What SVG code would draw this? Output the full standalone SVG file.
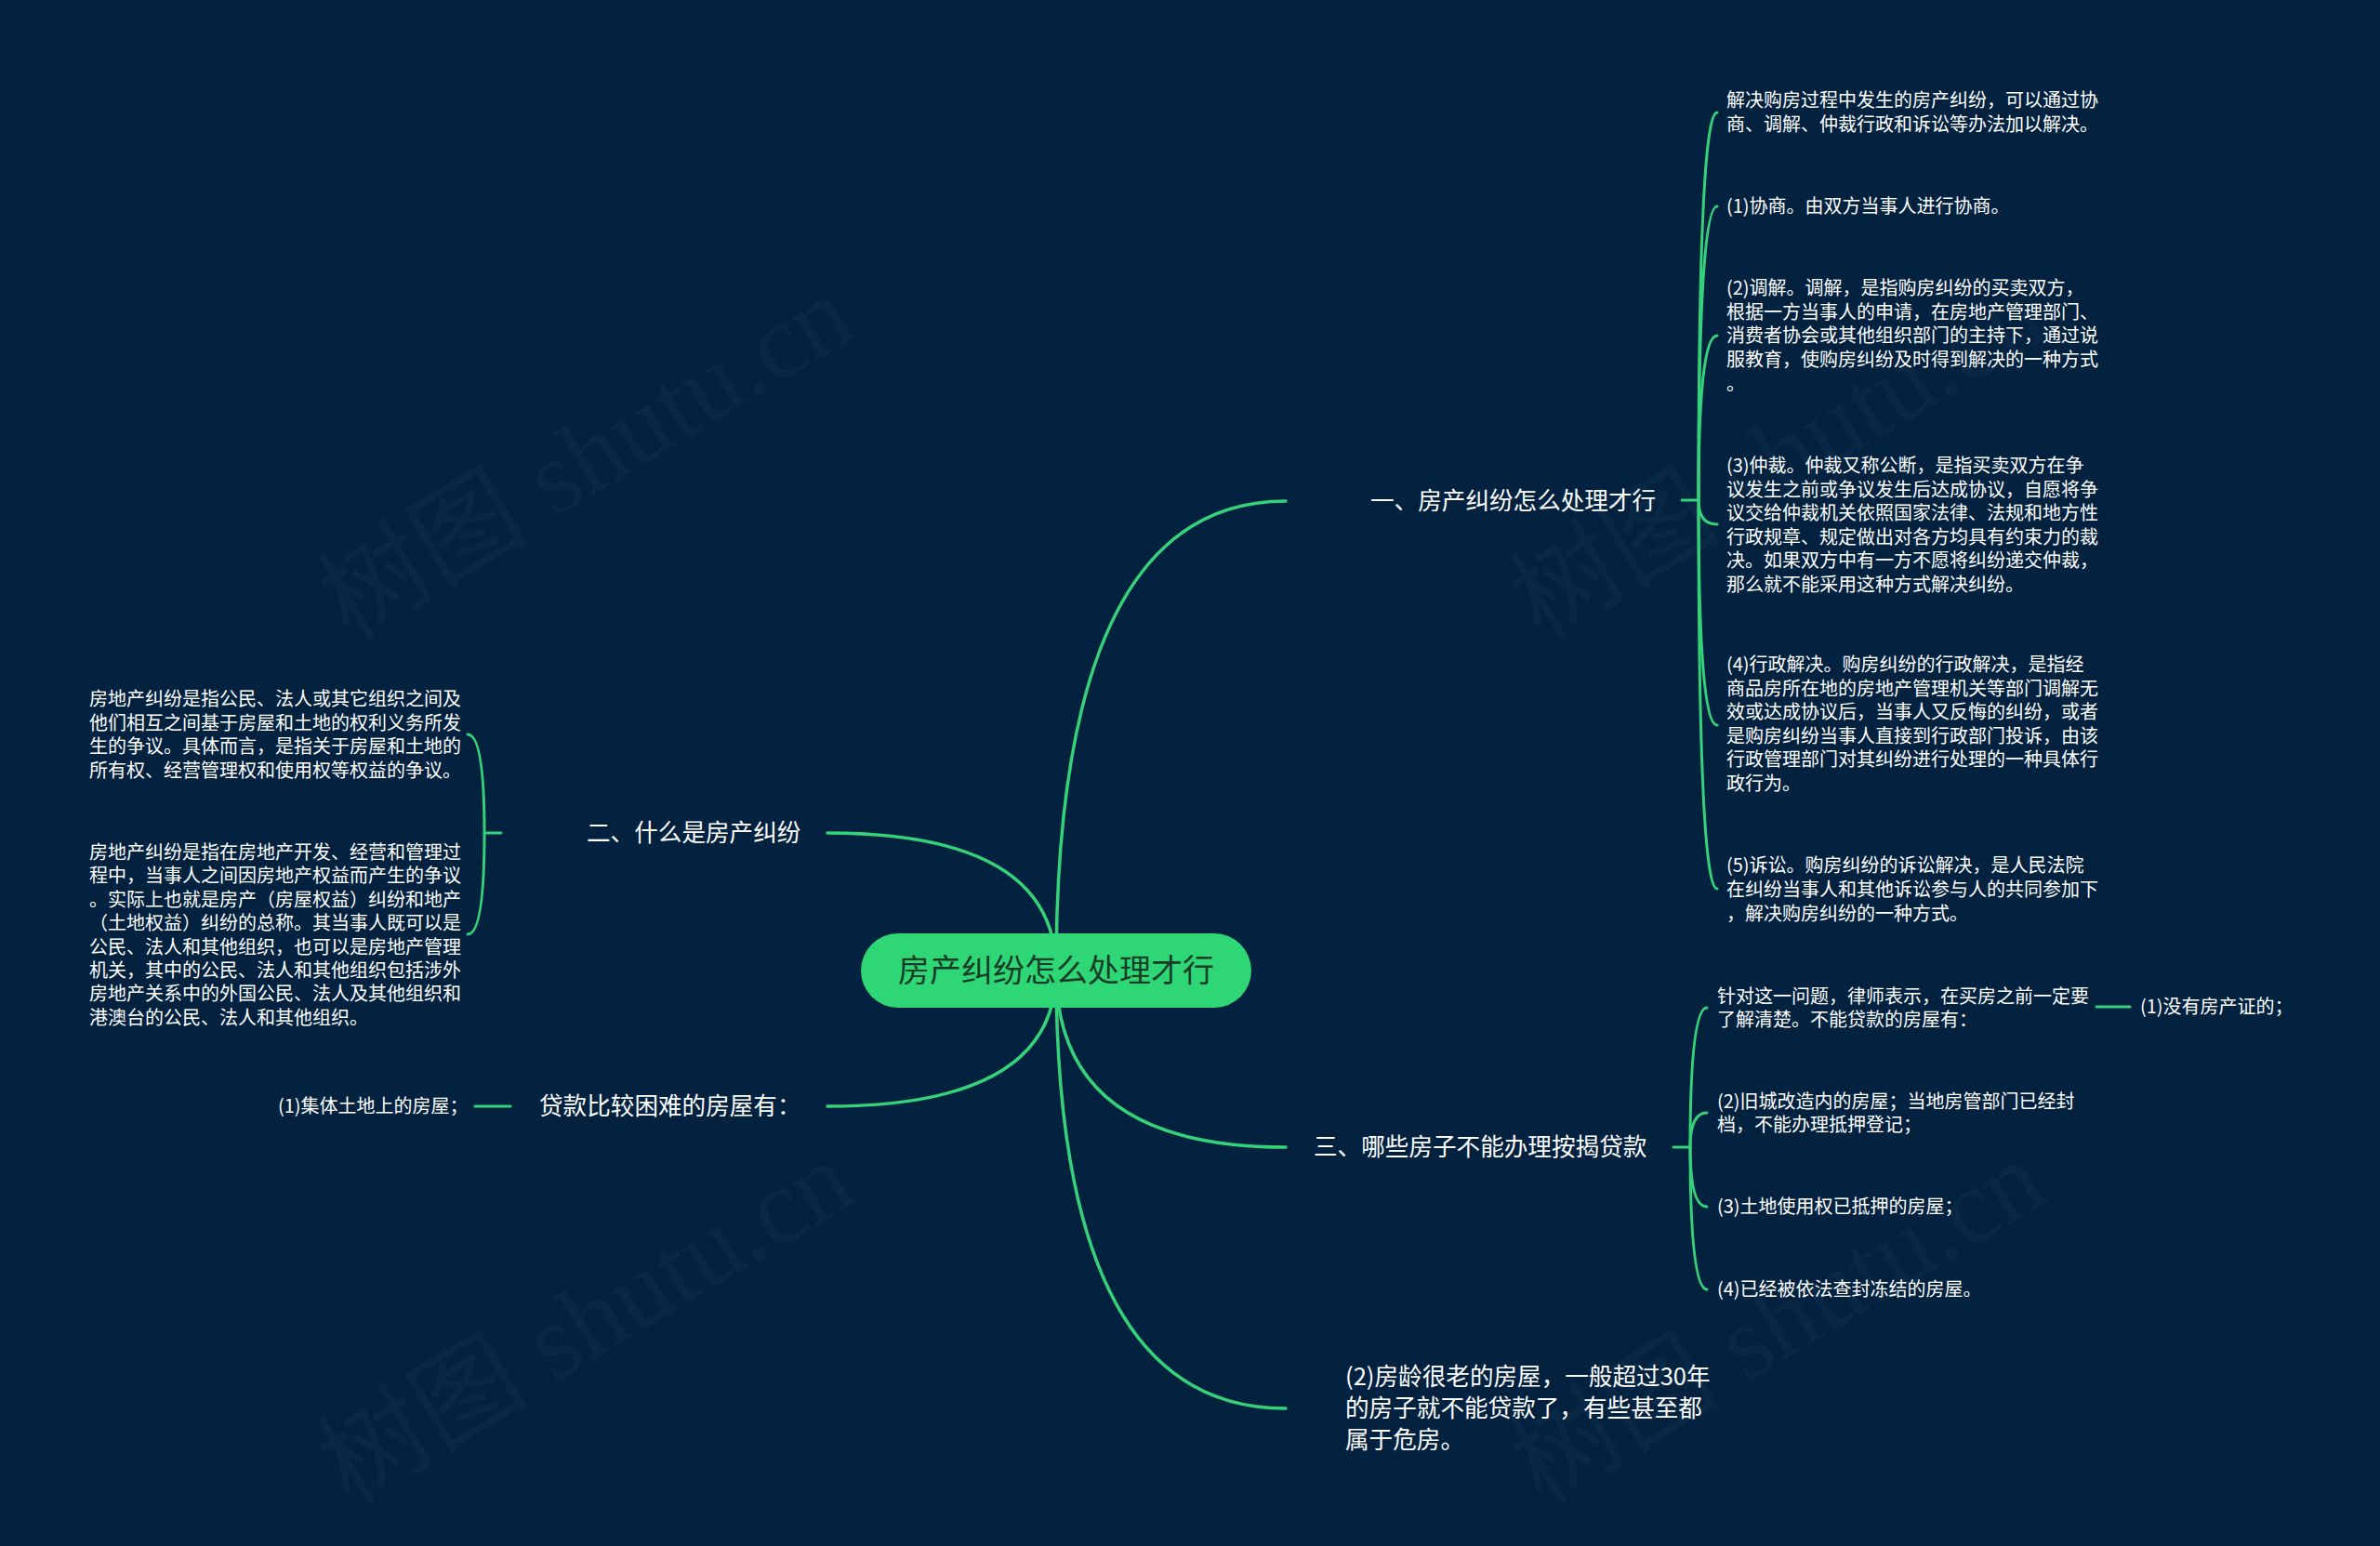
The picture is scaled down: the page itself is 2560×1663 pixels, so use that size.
<svg xmlns="http://www.w3.org/2000/svg" width="2560" height="1663" viewBox="0 0 2560 1663">
<style>
.bg{fill:#022240}
.wm{font-family:"Liberation Serif","Noto Sans CJK SC",serif;font-size:114px;fill:#ffffff;fill-opacity:0.03}
.ln{fill:none;stroke:#35d27a;stroke-width:3.5;stroke-linecap:round}
.sl{fill:none;stroke:#35d27a;stroke-width:3;stroke-linecap:round}
.t25{font-family:"Noto Sans CJK SC","Noto Sans",sans-serif;font-size:25.6px;fill:#ffffff}
.t20{font-family:"Noto Sans CJK SC","Noto Sans",sans-serif;font-size:20px;fill:#ffffff}
.root{fill:#2ed675}
.rt{font-family:"Noto Sans CJK SC","Noto Sans",sans-serif;font-size:34px;fill:#173d28}
</style>
<rect class="bg" x="0" y="0" width="2560" height="1663"/>
<g id="watermarks">
<text class="wm" x="650" y="525" text-anchor="middle" transform="rotate(-31 650 525)">树图 shutu.cn</text>
<text class="wm" x="1932" y="525" text-anchor="middle" transform="rotate(-31 1932 525)">树图 shutu.cn</text>
<text class="wm" x="650" y="1455" text-anchor="middle" transform="rotate(-31 650 1455)">树图 shutu.cn</text>
<text class="wm" x="1932" y="1455" text-anchor="middle" transform="rotate(-31 1932 1455)">树图 shutu.cn</text>
</g>
<g id="connectors">
<path class="ln" d="M1136 1044 Q1136 539 1383 539"/>
<path class="ln" d="M1136 1044 Q1136 896 890 896"/>
<path class="ln" d="M1136 1044 Q1136 1190 890 1190"/>
<path class="ln" d="M1136 1044 Q1136 1234 1383 1234"/>
<path class="ln" d="M1136 1044 Q1136 1515 1383 1515"/>
<path class="sl" d="M1809 538 H1827"/>
<path class="sl" d="M1827 538 Q1827 121 1847 121"/>
<path class="sl" d="M1827 538 Q1827 222 1847 222"/>
<path class="sl" d="M1827 538 Q1827 361 1847 361"/>
<path class="sl" d="M1827 538 Q1827 564 1847 564"/>
<path class="sl" d="M1827 538 Q1827 780 1847 780"/>
<path class="sl" d="M1827 538 Q1827 956 1847 956"/>
<path class="sl" d="M539 896 H521"/>
<path class="sl" d="M521 896 Q521 790 503 790"/>
<path class="sl" d="M521 896 Q521 1005 503 1005"/>
<path class="sl" d="M549 1190 H511"/>
<path class="sl" d="M1800 1234 H1818"/>
<path class="sl" d="M1818 1234 Q1818 1084 1836 1084"/>
<path class="sl" d="M1818 1234 Q1818 1197 1836 1197"/>
<path class="sl" d="M1818 1234 Q1818 1298 1836 1298"/>
<path class="sl" d="M1818 1234 Q1818 1387 1836 1387"/>
<path class="sl" d="M2255 1083 H2291"/>
</g>
<g id="root">
<rect class="root" x="926" y="1004" width="420" height="80" rx="40" ry="40"/>
<text class="rt" x="1136" y="1056" text-anchor="middle">房产纠纷怎么处理才行</text>
</g>
<g id="n1"><text class="t25" x="1474" y="548">一、房产纠纷怎么处理才行</text></g>
<g id="n1a"><text class="t20"><tspan x="1857" y="115">解决购房过程中发生的房产纠纷，可以通过协</tspan><tspan x="1857" y="141">商、调解、仲裁行政和诉讼等办法加以解决。</tspan></text></g>
<g id="n1b"><text class="t20" x="1857" y="229">(1)协商。由双方当事人进行协商。</text></g>
<g id="n1c"><text class="t20"><tspan x="1857" y="317">(2)调解。调解，是指购房纠纷的买卖双方，</tspan><tspan x="1857" y="342.7">根据一方当事人的申请，在房地产管理部门、</tspan><tspan x="1857" y="368.4">消费者协会或其他组织部门的主持下，通过说</tspan><tspan x="1857" y="394.1">服教育，使购房纠纷及时得到解决的一种方式</tspan><tspan x="1857" y="419.8">。</tspan></text></g>
<g id="n1d"><text class="t20"><tspan x="1857" y="508">(3)仲裁。仲裁又称公断，是指买卖双方在争</tspan><tspan x="1857" y="533.6">议发生之前或争议发生后达成协议，自愿将争</tspan><tspan x="1857" y="559.2">议交给仲裁机关依照国家法律、法规和地方性</tspan><tspan x="1857" y="584.8">行政规章、规定做出对各方均具有约束力的裁</tspan><tspan x="1857" y="610.4">决。如果双方中有一方不愿将纠纷递交仲裁，</tspan><tspan x="1857" y="636">那么就不能采用这种方式解决纠纷。</tspan></text></g>
<g id="n1e"><text class="t20"><tspan x="1857" y="722">(4)行政解决。购房纠纷的行政解决，是指经</tspan><tspan x="1857" y="747.6">商品房所在地的房地产管理机关等部门调解无</tspan><tspan x="1857" y="773.2">效或达成协议后，当事人又反悔的纠纷，或者</tspan><tspan x="1857" y="798.8">是购房纠纷当事人直接到行政部门投诉，由该</tspan><tspan x="1857" y="824.4">行政管理部门对其纠纷进行处理的一种具体行</tspan><tspan x="1857" y="850">政行为。</tspan></text></g>
<g id="n1f"><text class="t20"><tspan x="1857" y="938">(5)诉讼。购房纠纷的诉讼解决，是人民法院</tspan><tspan x="1857" y="964">在纠纷当事人和其他诉讼参与人的共同参加下</tspan><tspan x="1857" y="990">，解决购房纠纷的一种方式。</tspan></text></g>
<g id="n2"><text class="t25" x="631" y="905">二、什么是房产纠纷</text></g>
<g id="n2a"><text class="t20"><tspan x="96" y="759">房地产纠纷是指公民、法人或其它组织之间及</tspan><tspan x="96" y="784.5">他们相互之间基于房屋和土地的权利义务所发</tspan><tspan x="96" y="810">生的争议。具体而言，是指关于房屋和土地的</tspan><tspan x="96" y="835.5">所有权、经营管理权和使用权等权益的争议。</tspan></text></g>
<g id="n2b"><text class="t20"><tspan x="96" y="924">房地产纠纷是指在房地产开发、经营和管理过</tspan><tspan x="96" y="949.4">程中，当事人之间因房地产权益而产生的争议</tspan><tspan x="96" y="974.8">。实际上也就是房产（房屋权益）纠纷和地产</tspan><tspan x="96" y="1000.2">（土地权益）纠纷的总称。其当事人既可以是</tspan><tspan x="96" y="1025.6">公民、法人和其他组织，也可以是房地产管理</tspan><tspan x="96" y="1051">机关，其中的公民、法人和其他组织包括涉外</tspan><tspan x="96" y="1076.4">房地产关系中的外国公民、法人及其他组织和</tspan><tspan x="96" y="1101.8">港澳台的公民、法人和其他组织。</tspan></text></g>
<g id="n4"><text class="t25" x="580" y="1199">贷款比较困难的房屋有：</text></g>
<g id="n4a"><text class="t20" x="299" y="1197">(1)集体土地上的房屋；</text></g>
<g id="n3"><text class="t25" x="1413" y="1243">三、哪些房子不能办理按揭贷款</text></g>
<g id="n3a"><text class="t20"><tspan x="1847" y="1079">针对这一问题，律师表示，在买房之前一定要</tspan><tspan x="1847" y="1104">了解清楚。不能贷款的房屋有：</tspan></text></g>
<g id="n3a1"><text class="t20" x="2302" y="1090">(1)没有房产证的；</text></g>
<g id="n3b"><text class="t20"><tspan x="1847" y="1192">(2)旧城改造内的房屋；当地房管部门已经封</tspan><tspan x="1847" y="1217">档，不能办理抵押登记；</tspan></text></g>
<g id="n3c"><text class="t20" x="1847" y="1305">(3)土地使用权已抵押的房屋；</text></g>
<g id="n3d"><text class="t20" x="1847" y="1394">(4)已经被依法查封冻结的房屋。</text></g>
<g id="n5"><text class="t25"><tspan x="1447" y="1490">(2)房龄很老的房屋，一般超过30年</tspan><tspan x="1447" y="1524">的房子就不能贷款了，有些甚至都</tspan><tspan x="1447" y="1558">属于危房。</tspan></text></g>
</svg>
